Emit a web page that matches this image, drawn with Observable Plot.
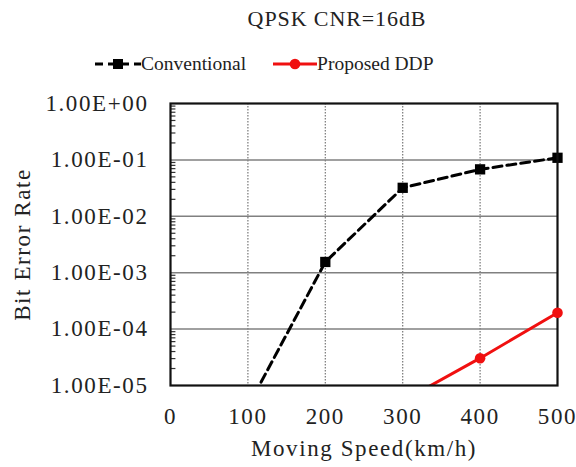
<!DOCTYPE html>
<html><head><meta charset="utf-8">
<script src="https://cdn.jsdelivr.net/npm/d3@7"></script>
<script src="https://cdn.jsdelivr.net/npm/@observablehq/plot@0.6"></script>
<style>
body{margin:0;background:#fff;}
#wrap{position:relative;width:576px;height:467px;font-family:"Liberation Serif","Times New Roman",serif;color:#222;}
#title{position:absolute;top:6px;left:0;width:674px;text-align:center;font-size:22px;letter-spacing:0.9px;}
#legend{position:absolute;top:53px;left:95px;font-size:19.5px;display:flex;align-items:center;white-space:nowrap;}
#legend svg{display:block}
</style></head>
<body><div id="wrap">
<div id="chart"></div>
<div id="title">QPSK CNR=16dB</div>
<div id="legend"></div>
</div>
<script>
const speeds = [100, 200, 300, 400, 500];
const conventional = [4.2e-6, 1.55e-3, 3.2e-2, 6.8e-2, 1.09e-1];
const proposedSpeeds = [300, 400, 500];
const proposed = [5.3e-6, 3.05e-5, 1.95e-4];
const xTicks = [0, 100, 200, 300, 400, 500];
const yTicks = [1e-5, 1e-4, 1e-3, 1e-2, 1e-1, 1];
const seriesNames = ["Conventional", "Proposed DDP"];

const convData = speeds.map((s, i) => ({speed: s, ber: conventional[i]}));
const propData = proposedSpeeds.map((s, i) => ({speed: s, ber: proposed[i]}));
const minor = [];
for (let e = -5; e < 0; e++) for (let k = 2; k <= 9; k++) minor.push({ber: k * Math.pow(10, e)});
const fmt = d => { const e = Math.round(Math.log10(d)); return "1.00E" + (e >= 0 ? "+" : "-") + String(Math.abs(e)).padStart(2, "0"); };
const visible = d => d.ber >= 1e-5;

const chart = Plot.plot({
  width: 576, height: 467,
  marginLeft: 170, marginRight: 19, marginTop: 103, marginBottom: 82,
  style: {fontFamily: "Liberation Serif, Times New Roman, serif", fontSize: "23px", color: "#222", background: "#fff", letterSpacing: "1.6px"},
  x: {domain: [0, 500], ticks: xTicks, tickSize: 0, tickPadding: 22, label: null},
  y: {type: "log", domain: [1e-5, 1], ticks: yTicks, tickFormat: fmt, tickSize: 0, tickPadding: 22, label: null},
  marks: [
    Plot.ruleX(xTicks.slice(1, -1), {stroke: "#777", strokeWidth: 1.2, strokeDasharray: "1.5,1.5"}),
    Plot.ruleY(yTicks.slice(1, -1), {stroke: "#808080", strokeWidth: 1.5}),
    Plot.ruleY(minor, {y: "ber", x1: d => 0, x2: d => 7, stroke: "#333", strokeWidth: 1.2}),
    Plot.line(convData, {x: "speed", y: "ber", stroke: "#000", strokeWidth: 3, strokeDasharray: "9,5", clip: true}),
    Plot.dot(convData, {filter: visible, x: "speed", y: "ber", symbol: "square", r: 5.8, fill: "#000"}),
    Plot.line(propData, {x: "speed", y: "ber", stroke: "#f01010", strokeWidth: 3, clip: true}),
    Plot.frame({stroke: "#111", strokeWidth: 2.2}),
    Plot.dot(propData, {filter: visible, x: "speed", y: "ber", r: 5.3, fill: "#f01010"}),
    Plot.axisX({tickSize: 0, tickPadding: 22, label: null}),
    Plot.axisY({tickSize: 0, tickPadding: 22, tickFormat: fmt, label: null}),
    Plot.text(["Bit Error Rate"], {frameAnchor: "left", textAnchor: "middle", rotate: -90, dx: -148, fontSize: 23}),
    Plot.text(["Moving Speed(km/h)"], {frameAnchor: "bottom", dy: 70, fontSize: 23})
  ]
});
document.getElementById("chart").appendChild(chart);

const leg = d3.select("#legend");
const s1 = leg.append("svg").attr("width", 46).attr("height", 20);
s1.append("line").attr("x1", 0).attr("x2", 46).attr("y1", 10).attr("y2", 10).attr("stroke", "#000").attr("stroke-width", 3).attr("stroke-dasharray", "8,5");
s1.append("rect").attr("x", 18).attr("y", 5).attr("width", 10).attr("height", 10).attr("fill", "#000");
leg.append("span").text(seriesNames[0]).style("margin-right", "27px");
const s2 = leg.append("svg").attr("width", 44).attr("height", 20);
s2.append("line").attr("x1", 0).attr("x2", 44).attr("y1", 10).attr("y2", 10).attr("stroke", "#f01010").attr("stroke-width", 3);
s2.append("circle").attr("cx", 22).attr("cy", 10).attr("r", 5.3).attr("fill", "#f01010");
leg.append("span").text(seriesNames[1]);
</script>
</body></html>
